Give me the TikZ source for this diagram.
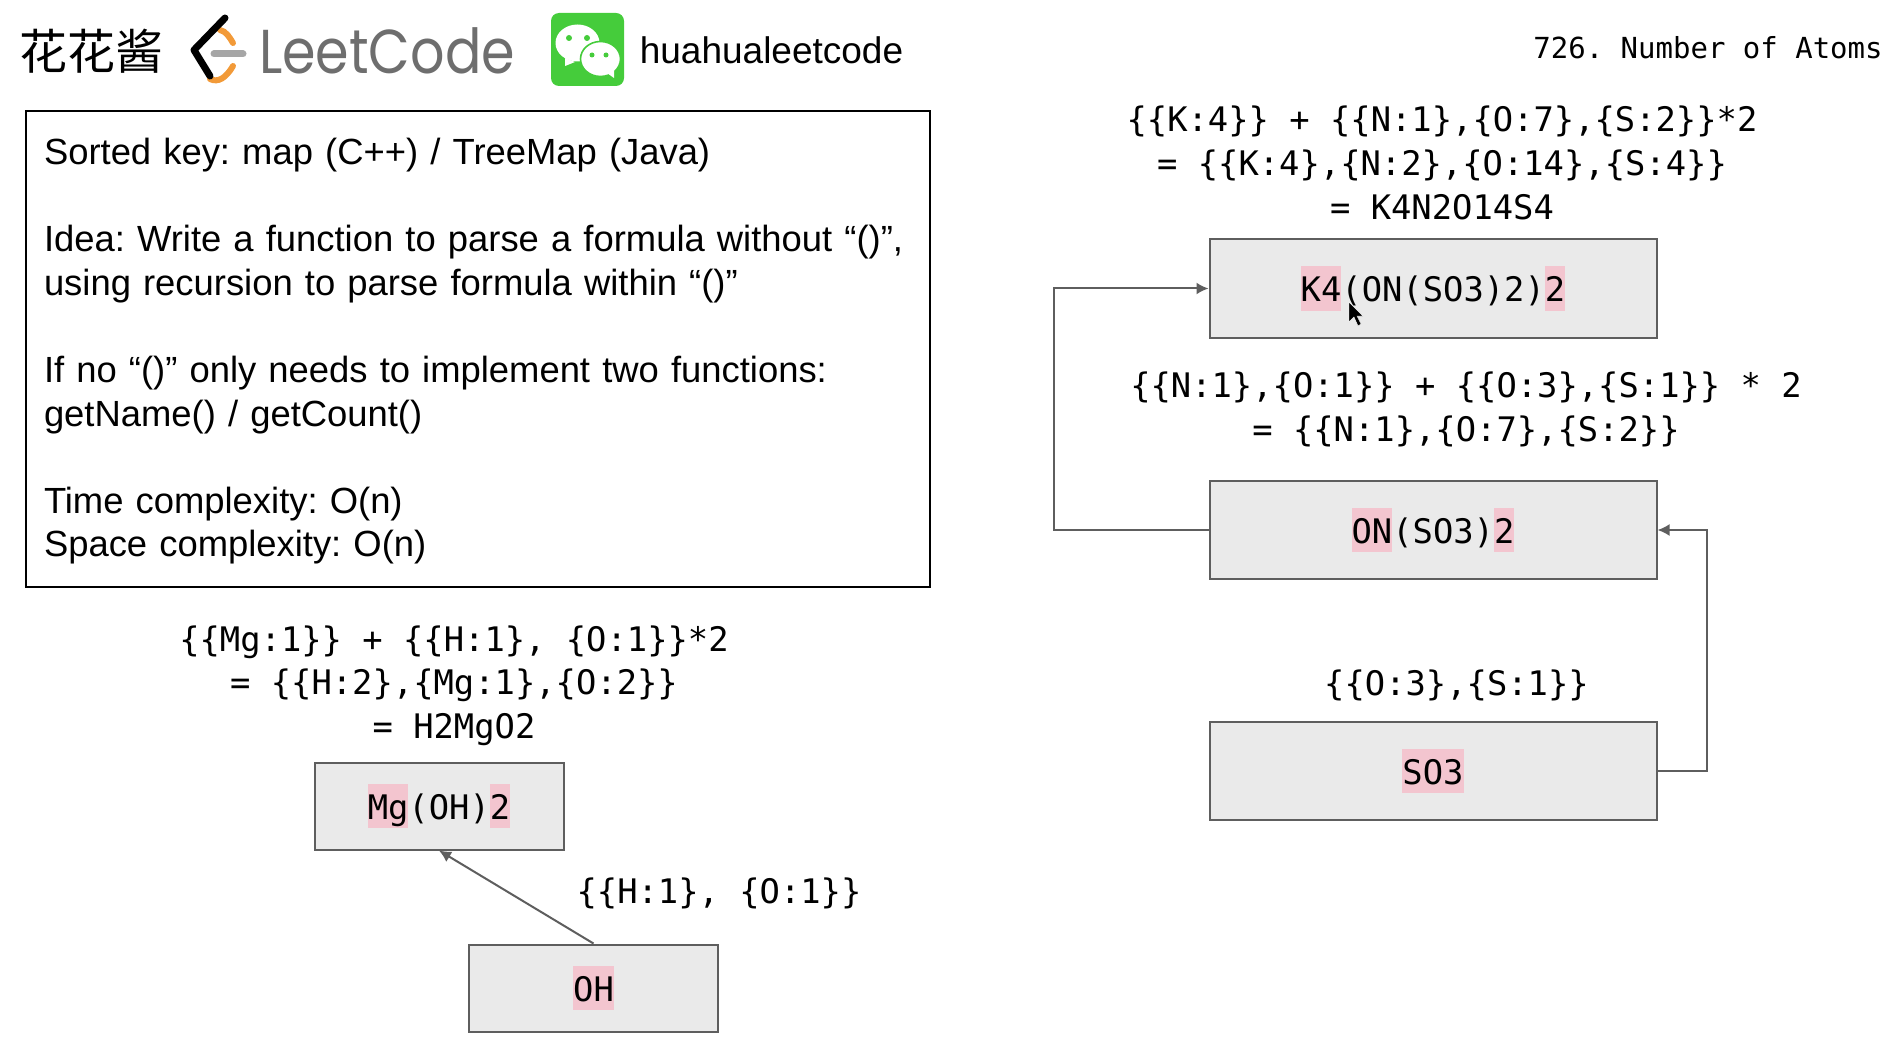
\documentclass[tikz,border=0pt]{standalone}
\usepackage{fontspec}
\usepackage{xcolor}
\setmainfont{Liberation Sans}
\setmonofont{DejaVu Sans Mono}
\newfontfamily\cjkfont{Noto Sans CJK SC}
\newfontfamily\logofont{Poppins}
\usetikzlibrary{arrows.meta,calc,positioning}
\definecolor{hlpink}{HTML}{F3C5CF}
\definecolor{boxgray}{HTML}{EAEAEA}
\definecolor{linegray}{HTML}{5E5E5E}
\definecolor{wechatgreen}{HTML}{45CC3B}
\definecolor{leetorange}{HTML}{F29A38}
\definecolor{leetgray}{HTML}{6E6E6E}
\newcommand{\hlatom}[1]{{\setlength{\fboxsep}{0pt}\colorbox{hlpink}{\rule[-4.5pt]{0pt}{22pt}#1}}}
\tikzset{
	atombox/.style={draw=linegray,fill=boxgray,line width=1pt,inner sep=0pt,font=\ttfamily\fontsize{16.9}{21.8}\selectfont},
	formula/.style={align=center,inner sep=0pt,font=\ttfamily\fontsize{16.9}{21.8}\selectfont},
	link/.style={draw=linegray,line width=1pt,-{Latex[length=6pt,width=6pt]}},
}
\begin{document}
\begin{tikzpicture}[x=0.5pt,y=-0.5pt]
		\useasboundingbox (0,0) rectangle (1900,1064);
		\node[inner sep=0pt,font=\cjkfont\fontsize{24}{24}\selectfont] (brandname) at (91,51) {花花酱};
		\draw[leetorange,line width=3pt,line cap=round] (220,30) .. controls (226,31) and (230,38) .. (233,43);
		\draw[leetorange,line width=3pt,line cap=round] (210,79) .. controls (218,83) and (226,78) .. (233,66);
		\draw[line width=3.5pt,line cap=round,line join=round] (225,18) -- (194,50) -- (210,76);
		\draw[black!35,line width=3.5pt,line cap=round] (214,54) -- (243,54);
		\node[inner sep=0pt,text=leetgray,transform shape,xscale=0.87,font=\logofont\fontsize{31}{31}\selectfont] (leetname) at (387,51) {LeetCode};
		\fill[wechatgreen,rounded corners=4pt] (551,13) rectangle (624,86);
		\fill[white] (577.5,43) ellipse (22 and 18.5);
		\fill[white] (565,58) -- (565,66) -- (575,62) -- cycle;
		\fill[white,draw=wechatgreen,line width=0.8pt] (600.5,59) ellipse (20 and 17.5);
		\fill[white] (607,73) -- (614,78) -- (614,70) -- cycle;
		\fill[wechatgreen] (569,38) circle (3) (587,38) circle (3) (592,55) circle (2.5) (606,55) circle (2.5);
		\node[inner sep=0pt,font=\fontsize{18.5}{18.5}\selectfont] (wechatname) at (771.5,50) {huahualeetcode};
		\node[inner sep=0pt,font=\ttfamily\fontsize{14.5}{14.5}\selectfont] (titlename) at (1708,48) {726. Number of Atoms};
		\node[draw,line width=1pt,anchor=north west,minimum width=451.5pt,minimum height=238pt,inner sep=9pt,align=left,text width=434pt,font=\fontsize{18.2}{21.8}\selectfont\frenchspacing] (infobox) at (25,110) {\rule{0pt}{15.4pt}Sorted key: map (C++) / TreeMap (Java)\\[21.8pt]
			Idea: Write a function to parse a formula without “()”,\\
			using recursion to parse formula within “()”\\[21.8pt]
			If no “()” only needs to implement two functions:\\
			getName() / getCount()\\[21.8pt]
			Time complexity: O(n)\\
			Space complexity: O(n)};
		\node[formula] (mgsum) at (454,685.5) {\{\{Mg:1\}\} + \{\{H:1\}, \{O:1\}\}*2\\= \{\{H:2\},\{Mg:1\},\{O:2\}\}\\= H2MgO2};
		\node[atombox,minimum width=124.5pt,minimum height=43.5pt] (mgbox) at (439,806) {\hlatom{Mg}(OH)\hlatom{2}};
		\node[atombox,minimum width=124.5pt,minimum height=43.5pt] (ohbox) at (593.5,988) {\hlatom{OH}};
		\node[formula] (ohsum) at (719,893) {\{\{H:1\}, \{O:1\}\}};
		\draw[link] (ohbox.north) -- (mgbox.south);
		\node[formula] (k4sum) at (1442,163) {\{\{K:4\}\} + \{\{N:1\},\{O:7\},\{S:2\}\}*2\\= \{\{K:4\},\{N:2\},\{O:14\},\{S:4\}\}\\= K4N2O14S4};
		\node[atombox,minimum width=223.5pt,minimum height=49pt] (k4box) at (1433,288.5) {\hlatom{K4}(ON(SO3)2)\hlatom{2}};
		\node[formula] (onsum) at (1466,409.5) {\{\{N:1\},\{O:1\}\} + \{\{O:3\},\{S:1\}\} * 2\\= \{\{N:1\},\{O:7\},\{S:2\}\}};
		\node[atombox,minimum width=223.5pt,minimum height=49pt] (onbox) at (1433,530) {\hlatom{ON}(SO3)\hlatom{2}};
		\node[formula] (so3sum) at (1456.5,685.5) {\{\{O:3\},\{S:1\}\}};
		\node[atombox,minimum width=223.5pt,minimum height=49pt] (so3box) at (1433,771) {\hlatom{SO3}};
		\coordinate (leftturn) at (1054,0);
		\coordinate (rightturn) at (1707,0);
		\draw[link] (onbox.west) -- (onbox.west -| leftturn) |- (k4box.west);
		\draw[link] (so3box.east) -- (so3box.east -| rightturn) |- (onbox.east);
		\filldraw[black,draw=white,line width=0.2pt] (1349,302) -- (1349,322) -- (1354,317) -- (1358,326) -- (1361,324) -- (1357,316) -- (1363,316) -- cycle;
		\end{tikzpicture}
\end{document}
